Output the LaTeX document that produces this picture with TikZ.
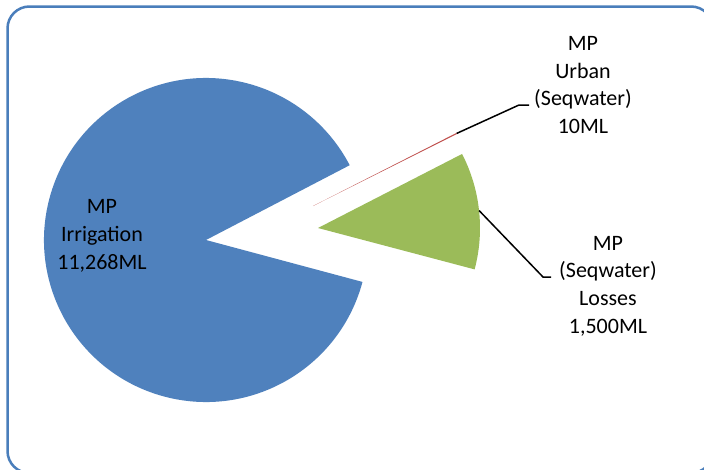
\documentclass[tikz,border=0pt]{standalone}
\usepackage{fontspec}
\usetikzlibrary{calc}
\setmainfont{Carlito}
\definecolor{pieblue}{HTML}{4F81BD}
\definecolor{piegreen}{HTML}{9BBB59}
\definecolor{piered}{HTML}{C0504D}
\definecolor{framecol}{HTML}{4A7EBB}
\begin{document}
\begin{tikzpicture}[x=1pt,y=-1pt,
  lbl/.style={align=center, font=\fontsize{22}{27.7}\selectfont, inner sep=0pt, text=black},
  leader/.style={draw=black, line width=1.5pt}]
\clip (0,0) rectangle (704,469);
\fill[white] (0,0) rectangle (704,469);
\draw[framecol, line width=2.5pt, rounded corners=22pt] (7.5,6.5) rectangle (713,473);
% centres
\coordinate (bc) at (206,240);
\coordinate (gc) at (318,228);
\coordinate (rc) at (313,206);
% slices
\fill[pieblue] (bc) -- ++(15:162) arc[start angle=15, end angle=332.5, radius=162] -- cycle;
\fill[piegreen] (gc) -- ++(-27.2:162) arc[start angle=-27.2, end angle=14.8, radius=162] -- cycle;
\fill[piered] (rc) -- ++(-27.0:161) arc[start angle=-27.0, end angle=-26.6, radius=161] -- cycle;
% labels
\node[lbl] (irr) at (102,236) {MP\\Irrigation\\11,268ML};
\node[lbl] (urb) at (583,85) {MP\\Urban\\(Seqwater)\\10ML};
\node[lbl] (los) at (608,286) {MP\\(Seqwater)\\Losses\\1,500ML};
% leaders
\coordinate (u1) at ($(rc)+(-26.8:161)$);
\coordinate (u2) at (519,105);
\coordinate (u3) at (529,105);
\draw[leader] (u1) -- (u2) -- (u3);
\coordinate (l1) at ($(gc)+(-6.2:162)$);
\coordinate (l2) at (543,277);
\coordinate (l3) at (551,277);
\draw[leader] (l1) -- (l2) -- (l3);
\end{tikzpicture}
\end{document}
